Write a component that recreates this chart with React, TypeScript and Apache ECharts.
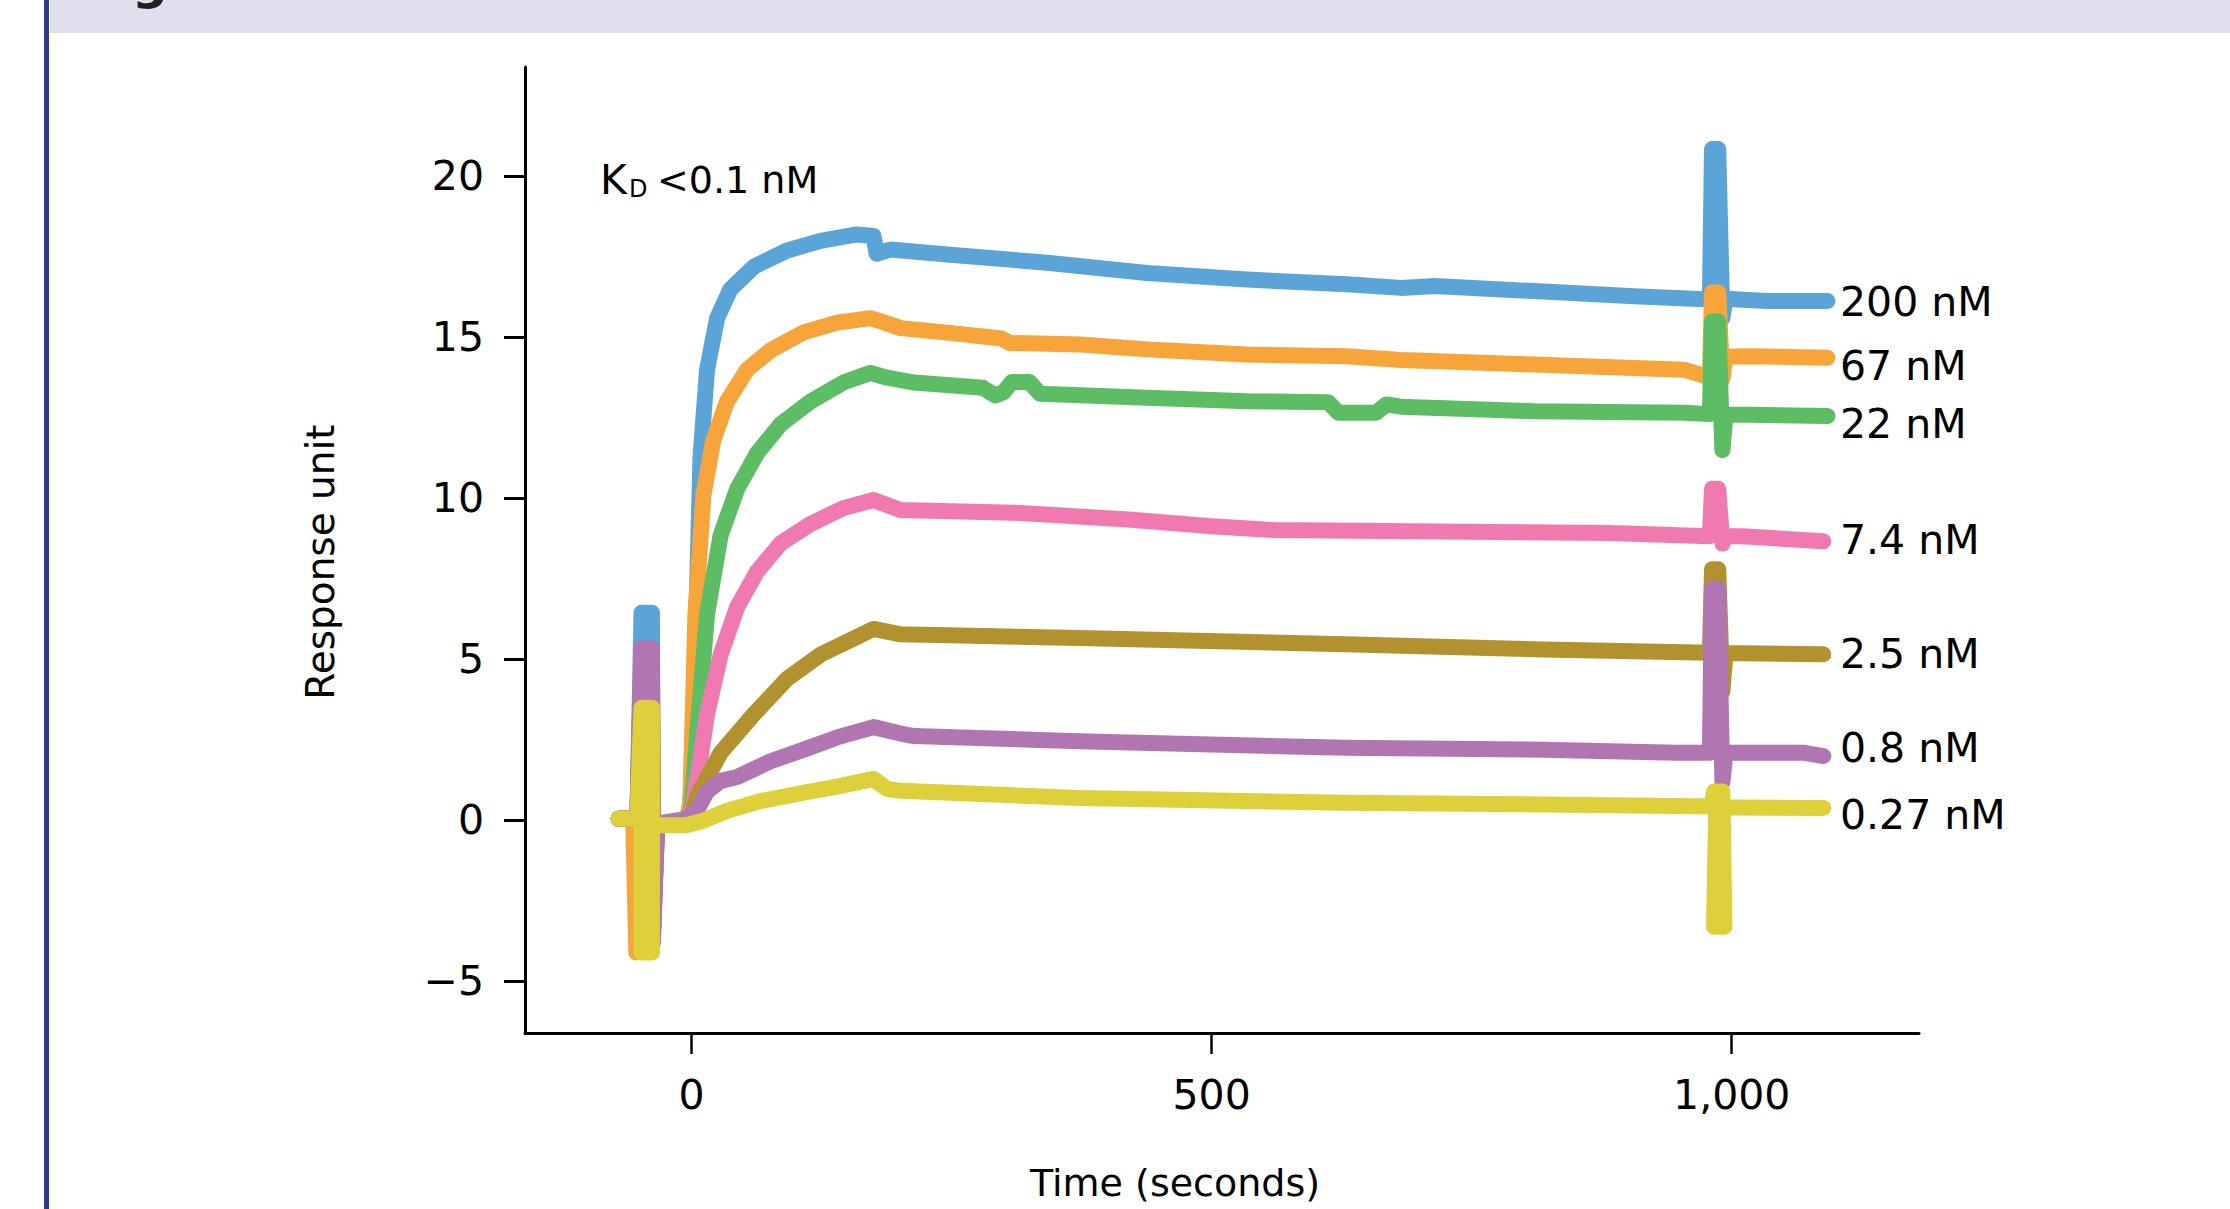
import React, { useEffect, useRef } from 'react';
import * as echarts from 'echarts';

const FONT = 'DejaVu Sans';

const seriesNames = ['200 nM', '67 nM', '22 nM', '7.4 nM', '2.5 nM', '0.8 nM', '0.27 nM'];
const xTicks = [0, 500, 1000];
const yTicks = [-5, 0, 5, 10, 15, 20];

const s200: number[][] = [
  [-70, 0.05], [-52, 0.05], [-48, 6.45], [-38, 6.45], [-37, -3.0], [-33, -0.1], [-5, -0.1],
  [-1, 0.5], [3.8, 5.2], [8.7, 11.3], [15, 14.0], [24.7, 15.6], [37.5, 16.5], [60, 17.2],
  [92, 17.7], [124, 18.0], [159, 18.2], [175, 18.15], [178, 17.6], [191, 17.73], [246, 17.58],
  [342, 17.32], [438, 17.0], [534, 16.8], [630, 16.65], [682, 16.54], [714, 16.6], [810, 16.44],
  [906, 16.28], [979, 16.18], [981, 20.85], [987, 20.85], [991, 15.6], [994, 16.2],
  [1034, 16.13], [1092, 16.13],
];
const s67: number[][] = [
  [-70, 0.05], [-56, 0.05], [-53, -4.1], [-50, -0.1], [-5, -0.1],
  [-1, 0.6], [3.8, 6.4], [11.5, 10.1], [21, 11.8], [34, 13.0], [53.5, 14.0], [76, 14.6],
  [108, 15.16], [140, 15.46], [172, 15.6], [185, 15.47], [201, 15.29], [246, 15.15],
  [298, 14.97], [306, 14.83], [374, 14.78], [438, 14.63], [534, 14.47], [630, 14.42],
  [682, 14.3], [810, 14.16], [954, 14.0], [975, 13.8], [979, 13.8], [981, 16.4], [987, 16.4],
  [991, 13.7], [994, 14.4], [1018, 14.42], [1092, 14.37],
];
const s22: number[][] = [
  [-70, 0.05], [-52, 0.05], [-48, 5.0], [-38, 5.0], [-37, -3.5], [-33, -0.1], [-4, -0.1],
  [0, 0.4], [5.5, 2.7], [15, 6.4], [28, 8.85], [44, 10.3], [63, 11.4], [85.6, 12.3],
  [114, 13.0], [146, 13.6], [172, 13.9], [188, 13.75], [214, 13.6], [280, 13.44], [292, 13.2],
  [300, 13.3], [308, 13.62], [325, 13.62], [335, 13.25], [438, 13.13], [534, 13.02],
  [612, 12.99], [622, 12.66], [658, 12.66], [668, 12.92], [682, 12.85], [810, 12.71],
  [954, 12.66], [979, 12.62], [981, 15.5], [987, 15.5], [991, 11.5], [994, 12.6],
  [1018, 12.6], [1092, 12.56],
];
const s7_4: number[][] = [
  [-70, 0.05], [-52, 0.05], [-48, 5.0], [-38, 5.0], [-37, -3.5], [-33, -0.1], [-4, -0.1],
  [2, 0.5], [15, 3.3], [28, 5.15], [44, 6.63], [63, 7.73], [85.6, 8.6], [114, 9.2],
  [146, 9.7], [175, 9.95], [201, 9.64], [309, 9.56], [420, 9.35], [500, 9.14], [560, 9.02],
  [692, 8.98], [883, 8.93], [979, 8.83], [981, 10.3], [987, 10.3], [991, 8.6], [994, 8.83],
  [1010, 8.83], [1088, 8.67],
];
const s2_5: number[][] = [
  [-70, 0.05], [-52, 0.05], [-48, 5.0], [-38, 5.0], [-37, -3.5], [-33, -0.1], [-5, -0.05],
  [0, 0.1], [5.5, 0.75], [28, 2.1], [60, 3.3], [92, 4.4], [124, 5.15], [156, 5.65],
  [175, 5.95], [201, 5.78], [373, 5.67], [628, 5.47], [819, 5.31], [979, 5.21], [981, 7.8],
  [987, 7.8], [991, 4.0], [994, 5.2], [1088, 5.16],
];
const s0_8: number[][] = [
  [-70, 0.05], [-52, 0.05], [-48, 5.35], [-38, 5.35], [-37, -3.8], [-33, -0.1], [-5, 0.05],
  [5, 0.3], [15, 0.9], [28, 1.23], [44, 1.35], [76, 1.84], [108, 2.2], [140, 2.58],
  [175, 2.9], [201, 2.7], [214, 2.62], [373, 2.46], [628, 2.26], [819, 2.2], [947, 2.1],
  [979, 2.1], [981, 7.2], [987, 7.2], [991, 1.2], [994, 2.1], [1070, 2.1], [1088, 2.0],
];
const s0_27: number[][] = [
  [-70, 0.05], [-52, 0.05], [-48, 3.5], [-38, 3.5], [-38, -4.1], [-48, -4.1], [-48, -0.15],
  [-33, -0.15], [-5, -0.15], [12, 0.0], [34, 0.3], [66, 0.6], [114, 0.9], [140, 1.05],
  [175, 1.29], [188, 0.98], [201, 0.92], [373, 0.7], [628, 0.55], [819, 0.5], [966, 0.44],
  [981, 0.44], [983, 0.9], [991, 0.9], [993, -3.3], [983, -3.3], [985, 0.4], [1000, 0.4],
  [1088, 0.39],
];

const seriesData = [s200, s67, s22, s7_4, s2_5, s0_8, s0_27];
const seriesColors = ['#5BA4D8', '#F7A43B', '#5DBD64', '#F07AAF', '#B2922E', '#B175B1', '#DDD03A'];
const labelPixelY = [301.5, 366, 424, 540, 654, 748, 815];

export default function App() {
  const ref = useRef<HTMLDivElement>(null);
  useEffect(() => {
    const chart = echarts.init(ref.current as HTMLDivElement, null, { renderer: 'svg' });
    const txt = (text: string, x: number, y: number, size: number, extra: any = {}) => ({
      type: 'text',
      x,
      y,
      silent: true,
      ...extra.el,
      style: {
        text,
        fill: '#000',
        fontSize: size,
        fontFamily: FONT,
        align: 'left',
        textAlign: 'left',
        verticalAlign: 'middle',
        textVerticalAlign: 'middle',
        ...extra.style,
      },
    });
    const graphic: any[] = [
      { type: 'rect', silent: true, shape: { x: 50, y: 0, width: 2180, height: 33 }, style: { fill: '#E0DFEE' } },
      { type: 'rect', silent: true, shape: { x: 44, y: 0, width: 5, height: 1209 }, style: { fill: '#2E3B8E' } },
      txt('g', 132, -18, 50, { style: { fontWeight: 'bold', fill: '#231F20' } }),
      txt('K', 600, 180, 41),
      txt('D', 629, 189, 24),
      txt('<0.1 nM', 657, 180, 38),
      txt('Response unit', 320, 562, 39, {
        el: { rotation: Math.PI / 2 },
        style: { align: 'center', textAlign: 'center' },
      }),
      txt('Time (seconds)', 1175, 1183, 38, { style: { align: 'center', textAlign: 'center' } }),
      ...seriesNames.map((n, i) => txt(n, 1840, labelPixelY[i], 41)),
    ];
    chart.setOption({
      animation: false,
      backgroundColor: '#ffffff',
      textStyle: { fontFamily: FONT },
      grid: { left: 525, top: 67, width: 1394, height: 966, containLabel: false, outerBoundsMode: 'none' },
      xAxis: {
        type: 'value',
        min: -160,
        max: 1180,
        axisLine: { show: true, onZero: false, lineStyle: { color: '#000', width: 3 } },
        axisTick: { show: true, length: 21, lineStyle: { color: '#000', width: 2.5 }, customValues: xTicks },
        axisLabel: {
          customValues: xTicks,
          margin: 41,
          color: '#000',
          fontSize: 41,
          fontFamily: FONT,
          formatter: (v: number) => v.toLocaleString('en-US'),
        },
        splitLine: { show: false },
      },
      yAxis: {
        type: 'value',
        min: -6.6,
        max: 23.4,
        axisLine: { show: true, onZero: false, lineStyle: { color: '#000', width: 3 } },
        axisTick: { show: true, length: 21, lineStyle: { color: '#000', width: 3 }, customValues: yTicks },
        axisLabel: {
          customValues: yTicks,
          margin: 41,
          color: '#000',
          fontSize: 41,
          fontFamily: FONT,
          formatter: (v: number) => String(v).replace('-', '\u2212'),
        },
        splitLine: { show: false },
      },
      series: seriesData.map((d, i) => ({
        type: 'line',
        name: seriesNames[i],
        data: d,
        showSymbol: false,
        symbol: 'none',
        smooth: false,
        silent: true,
        lineStyle: { color: seriesColors[i], width: 16, cap: 'round', join: 'round' },
        itemStyle: { color: seriesColors[i] },
        emphasis: { disabled: true },
      })),
      graphic,
    });
    return () => chart.dispose();
  }, []);
  return (
    <div
      ref={ref}
      style={{ position: 'absolute', left: 0, top: 0, width: 2230, height: 1209, background: '#fff' }}
    />
  );
}
